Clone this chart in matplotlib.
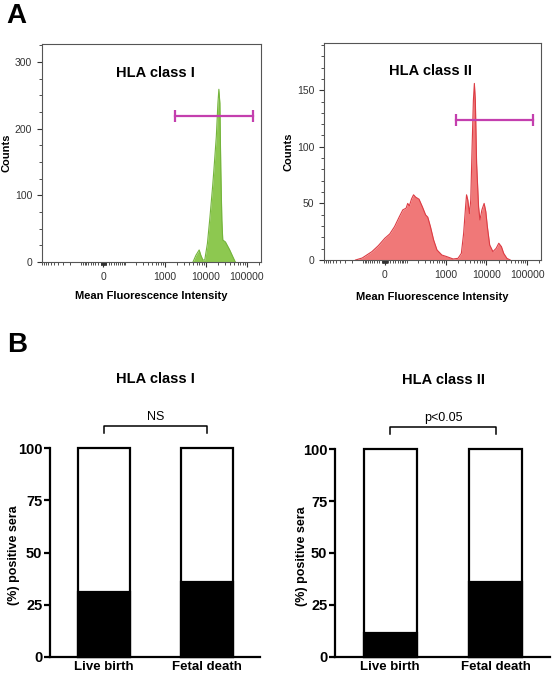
import matplotlib
matplotlib.use('Agg')
import matplotlib.pyplot as plt
import numpy as np

plt.rcParams['font.family'] = ['Liberation Sans', 'DejaVu Sans']

# histogram (MFI, counts)
class1_mfi = [4890, 5760, 6920, 7600, 8500, 9470, 11000, 12700, 14700, 15800, 18100,
              19800, 20900, 22100, 23300, 24700, 26000, 30200, 38400, 46400, 52400]
class1_counts = [0, 10, 18, 10, 3, 3, 28, 68, 113, 138, 188,
                 238, 259, 238, 138, 63, 33, 30, 18, 7, 0]

class2_mfi = [-162, -106, -51, -24, 0, 18, 37, 59, 77, 97, 108, 120, 138, 156, 178,
              217, 264, 318, 361, 420, 504, 610, 805, 1062, 1530, 2015, 2430, 2765,
              3085, 3260, 3500, 3850, 4135, 4465, 4800, 5075, 5360, 5760, 6440, 6960,
              7770, 8820, 9690, 10580, 12080, 14500, 17400, 20200, 23460, 26640,
              31970, 38590]
class2_counts = [0, 1.8, 7.4, 12.7, 19.2, 23, 29.5, 38.4, 44.3, 45.8, 50, 47.8, 54,
                 57.6, 55.5, 53.7, 47, 39.9, 37.8, 29.5, 17.7, 8.9, 4.4, 3, 0.9, 1.5,
                 5.9, 23.6, 47, 57.6, 53, 41, 53, 100, 141, 156, 141, 85.6, 47, 35.4,
                 44.3, 50, 42.8, 29.5, 13.3, 7.4, 10.3, 14.8, 11.8, 5.9, 1.5, 0]

gate_mfi = [1800, 140000]
gate1_y = 219
gate2_y = 124

groups = ['Live birth', 'Fetal death']
positive_class1 = [31, 36]
positive_class2 = [11.5, 36]
total = [100, 100]

C = 64.0
def fwd(x):
    return np.arcsinh(np.asarray(x, dtype=float) / C)
def inv(y):
    return C * np.sinh(y)

major_x = [0, 1000, 10000, 100000]
minor_x = []
for dec in [1, 10, 100, 1000, 10000]:
    for k in range(1, 10):
        minor_x.append(k * dec)
minor_x = [-v for v in minor_x if v <= 1000] + [v for v in minor_x] + [100000, 200000]
minor_x = [v for v in minor_x if v not in major_x]

fig = plt.figure(figsize=(5.54, 6.75), dpi=100)

gray = '#333333'

def flow_panel(rect, mfi, counts, fill, edge, ylim, ymaj, ymin, title, tx, gate_y, ylx, xly):
    ax = fig.add_axes(rect)
    ax.set_xscale('function', functions=(fwd, inv))
    ax.fill_between(mfi, counts, 0, color=fill, lw=0)
    ax.plot(mfi, counts, color=edge, lw=0.8)
    ax.plot(gate_mfi, [gate_y, gate_y], color='#c43fae', lw=1.6,
            marker='|', markersize=8, mew=1.6)
    ax.set_xlim(-830, 220000)
    ax.set_ylim(*ylim)
    ax.set_xticks(major_x)
    ax.set_xticklabels(['0', '1000', '10000', '100000'])
    ax.set_xticks(minor_x, minor=True)
    ax.set_yticks(ymaj)
    ax.set_yticks(ymin, minor=True)
    ax.tick_params(which='major', length=3.5, width=0.8, color=gray, labelsize=7.5,
                   labelcolor=gray, pad=3.5)
    ax.tick_params(which='minor', length=2, width=0.6, color=gray)
    for s in ax.spines.values():
        s.set_color('#555555')
        s.set_linewidth(0.8)
    ax.set_ylabel('Counts', fontsize=8, fontweight='bold')
    ax.yaxis.set_label_coords(ylx, 0.5)
    ax.set_xlabel('Mean Fluorescence Intensity', fontsize=8, fontweight='bold')
    ax.xaxis.set_label_coords(0.5, xly)
    ax.text(tx, 0.868, title, transform=ax.transAxes, ha='center', va='center',
            fontsize=10.5, fontweight='bold')
    return ax

flow_panel([0.0758, 0.6119, 0.395, 0.323], class1_mfi, class1_counts,
           '#8dc850', '#74b43c', (0, 327), [0, 100, 200, 300],
           [v for v in range(25, 327, 25) if v % 100], 'HLA class I', 0.52, gate1_y,
           -0.138, -0.133)
flow_panel([0.5848, 0.6148, 0.3917, 0.322], class2_mfi, class2_counts,
           '#f07878', '#dc3c44', (0, 192), [0, 50, 100, 150],
           [v for v in range(10, 192, 10) if v % 50], 'HLA class II', 0.49, gate2_y,
           -0.14, -0.146)


def bar_panel(rect, positive, title, note, label_x):
    ax = fig.add_axes(rect)
    x = np.arange(len(groups))
    ax.bar(x, total, width=0.5, color='white', edgecolor='black', lw=1.6, clip_on=False, zorder=2)
    ax.bar(x, positive, width=0.5, color='black', edgecolor='black', lw=1.6, clip_on=False, zorder=3)
    ax.set_xlim(-0.52, 1.51)
    ax.set_ylim(0, 100)
    ax.set_yticks([0, 25, 50, 75, 100])
    ax.set_xticks(x)
    ax.set_xticklabels(groups)
    for lab in ax.get_xticklabels() + ax.get_yticklabels():
        lab.set_fontweight('bold')
    ax.tick_params(axis='y', length=4, width=1.6, labelsize=10.5, pad=1.5)
    ax.tick_params(axis='x', length=0, labelsize=9.5, pad=3)
    ax.spines['top'].set_visible(False)
    ax.spines['right'].set_visible(False)
    ax.spines['left'].set_linewidth(1.6)
    ax.spines['bottom'].set_linewidth(1.6)
    ax.set_ylabel('(%) positive sera', fontsize=9, fontweight='bold')
    ax.yaxis.set_label_coords(label_x, 0.485)
    ax.text(0.5, 133.5, title, ha='center', va='center', fontsize=10.5,
            fontweight='bold', clip_on=False)
    ax.plot([0, 0, 1, 1], [107.5, 110.8, 110.8, 107.5], color='black', lw=1.1, clip_on=False)
    ax.text(0.5, 115.2, note, ha='center', va='center', fontsize=9, clip_on=False)
    return ax

bar_panel([0.0903, 0.0271, 0.379, 0.3087], positive_class1, 'HLA class I', 'NS', -0.143)
bar_panel([0.6047, 0.0271, 0.388, 0.3073], positive_class2, 'HLA class II', 'p<0.05', -0.126)

fig.text(0.012, 0.976, 'A', fontsize=20, fontweight='bold', va='center', ha='left')
fig.text(0.012, 0.489, 'B', fontsize=20, fontweight='bold', va='center', ha='left')

fig.savefig('out.png', dpi=100)
